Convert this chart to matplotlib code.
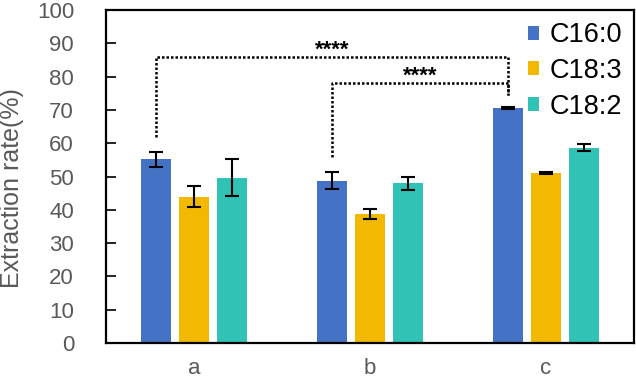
import numpy as np
import matplotlib.pyplot as plt

plt.rcParams['font.family'] = ['Liberation Sans', 'DejaVu Sans']

groups = ['a', 'b', 'c']
series = ['C16:0', 'C18:3', 'C18:2']
values = {
    'C16:0': [55.2, 48.7, 70.7],
    'C18:3': [43.9, 38.6, 51.0],
    'C18:2': [49.7, 47.9, 58.7],
}
errors = {
    'C16:0': [2.2, 2.6, 0.3],
    'C18:3': [3.1, 1.5, 0.3],
    'C18:2': [5.5, 2.0, 1.0],
}
colors = ['#4472C4', '#F2B900', '#2FC2B5']
# significance brackets: (group i, group j, line height, left foot, right foot)
brackets = [(0, 2, 86.0, 62.0, 74.5), (1, 2, 78.2, 55.8, 74.5)]
sig_labels = ['****', '****']

fig = plt.figure(figsize=(6.36, 3.82), dpi=100)
ax = fig.add_axes([0.1667, 0.1021, 0.8302, 0.8717])

x = np.arange(len(groups))
w = 0.17
step = 0.215
for k, s in enumerate(series):
    xs = x + (k - 1) * step
    ax.bar(xs, values[s], w, color=colors[k], label=s, zorder=2)
    ax.errorbar(xs, values[s], yerr=errors[s], fmt='none', ecolor='black',
                elinewidth=1.5, capsize=5, capthick=1.5, zorder=3)

for (i, j, h, yl, yr), lab in zip(brackets, sig_labels):
    xl = x[i] - step
    xr = x[j] - step
    ax.plot([xl, xl, xr, xr], [yl, h, h, yr], color='black', lw=1.8,
            linestyle=(0, (1, 0.8)), zorder=4)
    ax.text((xl + xr) / 2, h + 0.3, lab, ha='center', va='baseline',
            fontsize=16, fontweight='bold', color='black')

ax.set_xlim(-0.5, 2.5)
ax.set_ylim(0, 100)
ax.set_yticks(np.arange(0, 101, 10))
ax.set_xticks(x)
ax.set_xticklabels(groups)
ax.tick_params(axis='y', direction='in', length=7, width=1.2, labelsize=16,
               labelcolor='#595959', pad=23)
ax.tick_params(axis='x', length=0, labelsize=16, labelcolor='#595959', pad=11)
for sp in ax.spines.values():
    sp.set_linewidth(1.6)
    sp.set_color('black')
ax.set_ylabel('Extraction rate(%)', fontsize=18, color='#595959')
ax.yaxis.set_label_coords(-0.155, 0.464)

leg = ax.legend(loc='upper right', frameon=False, fontsize=19.5,
                handlelength=0.42, handleheight=0.42, handletextpad=0.37,
                labelspacing=0.36, borderaxespad=0.25, borderpad=0.2)

fig.savefig('out.png', dpi=100)
